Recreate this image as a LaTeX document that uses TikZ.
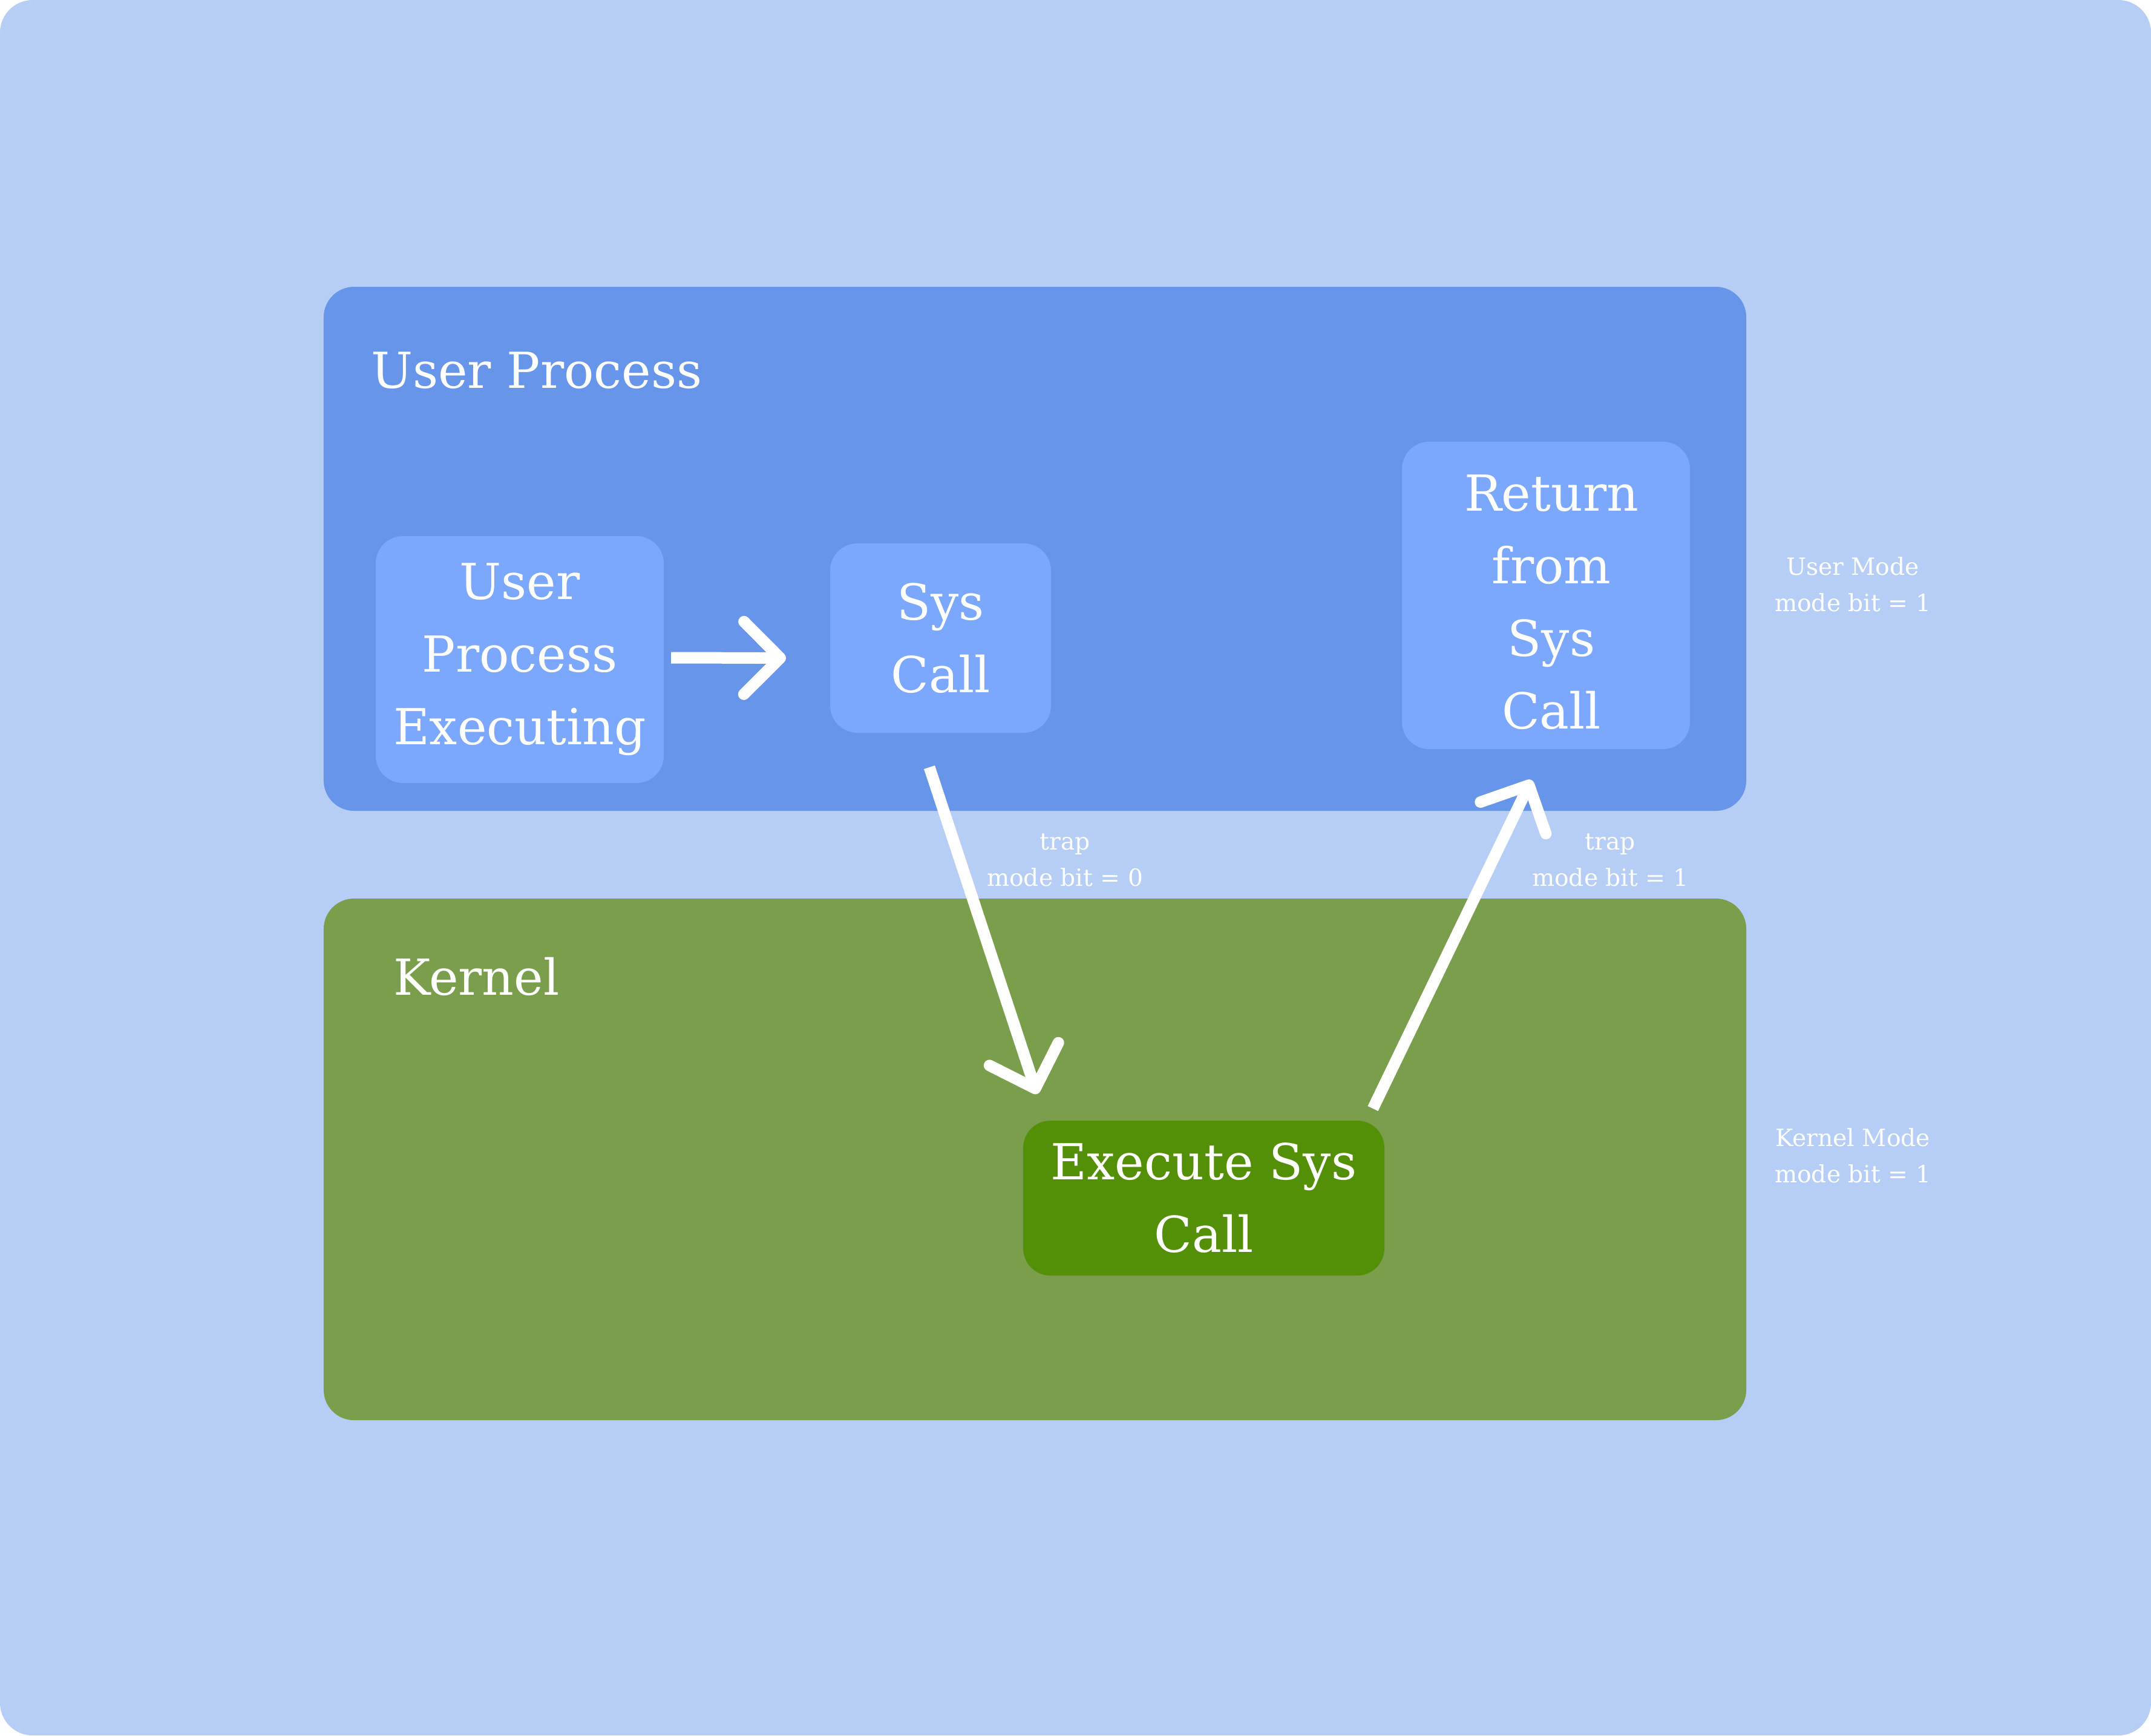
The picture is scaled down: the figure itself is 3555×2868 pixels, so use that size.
\documentclass[tikz,border=0pt]{standalone}
\usepackage{fontspec}
\setmainfont{DejaVu Serif}
\usetikzlibrary{arrows.meta}
\definecolor{bgc}{HTML}{B6CDF5}
\definecolor{userc}{HTML}{6695EA}
\definecolor{innerc}{HTML}{7BA8FD}
\definecolor{kernc}{HTML}{7A9E4C}
\definecolor{execc}{HTML}{548F08}
\newcommand\bigtxt{\fontsize{16.4}{24}\selectfont}
\newcommand\smalltxt{\fontsize{7.85}{12}\selectfont}
\begin{document}
\begin{tikzpicture}[x=0.2pt,y=-0.2pt,
  region/.style={rectangle, rounded corners=10pt, inner sep=0pt, draw=none},
  stepbox/.style={rectangle, rounded corners=9pt, fill=innerc, text=white, align=center, font=\bigtxt, inner sep=0pt},
  title/.style={text=white, font=\bigtxt, inner sep=0pt},
  note/.style={text=white, font=\smalltxt, align=center, inner sep=0pt},
  flow/.style={draw=white, line width=3.8pt, line cap=butt, -{Straight Barb[length=12pt,width=24pt,round]}}]
\fill[white] (0,0) rectangle (3555,2868);
\fill[bgc, rounded corners=10.8pt] (0,0) rectangle (3555,2868);
\useasboundingbox (0,0) rectangle (3555,2868);

\node[region, fill=userc, minimum width=470.2pt, minimum height=173.2pt] (userbox) at (1710.5,907) {};
\node[region, fill=kernc, minimum width=470.2pt, minimum height=172.4pt] (kernbox) at (1710.5,1916) {};

\node[title, anchor=base west] (usertitle) at (612,641) {User Process};
\node[title, anchor=base west] (kerntitle) at (649,1644) {Kernel};

\node[stepbox, minimum width=95.2pt, minimum height=81.6pt] (upe) at (859,1090) {User\\Process\\Executing};
\node[stepbox, minimum width=73pt, minimum height=62.6pt] (syscall) at (1554.5,1054.5) {Sys\\Call};
\node[stepbox, minimum width=95.2pt, minimum height=101.6pt] (ret) at (2555,984) {};
\node[stepbox, fill=none] (rettext) at ([shift={(9,11)}]ret.center) {Return\\from\\Sys\\Call};
\node[stepbox, fill=execc, minimum width=119.4pt, minimum height=51.2pt] (exec) at (1989.5,1980) {Execute Sys\\Call};

\node[note] (trap0) at (1760,1421) {trap\\mode bit = 0};
\node[note] (trap1) at (2661,1421) {trap\\mode bit = 1};
\node[note] (umode) at (3062,966) {User Mode\\mode bit = 1};
\node[note] (kmode) at (3062,1910) {Kernel Mode\\mode bit = 1};

\draw[flow] ([shift={(11,-3)}]upe.east) -- ([shift={(-72,33)}]syscall.west);
\draw[flow] ([shift={(-18.5,56)}]syscall.south) -- ([shift={(-275.5,-43)}]exec.north);
\draw[flow] ([shift={(-20,-19)}]exec.north east) -- ([shift={(-24,50)}]ret.south);
\end{tikzpicture}
\end{document}
